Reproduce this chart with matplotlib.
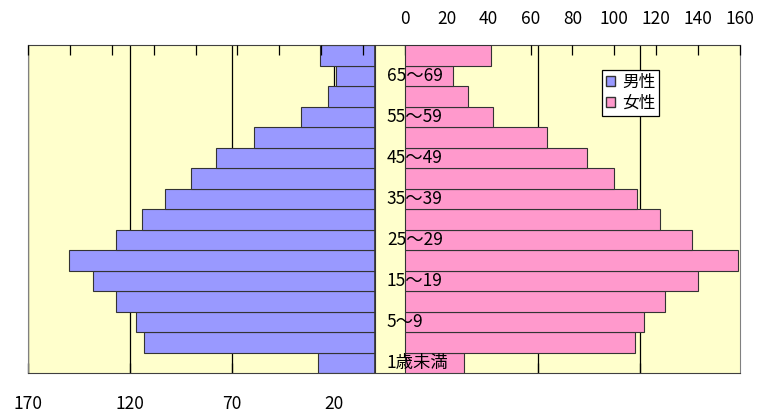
import matplotlib
matplotlib.use('Agg')
import matplotlib.pyplot as plt
from matplotlib.patches import Patch

plt.rcParams['font.family'] = ['Noto Sans CJK JP', 'DejaVu Sans']

# 年齢階級（下から上へ）
age_groups = ['1歳未満', '1～4', '5～9', '10～14', '15～19', '20～24', '25～29', '30～34',
              '35～39', '40～44', '45～49', '50～54', '55～59', '60～64', '65～69', '70～']
male = [28, 113, 117, 127, 138, 150, 127, 114, 103, 90, 78, 59, 36, 23, 19, 27]
female = [28, 110, 114, 124, 140, 159, 137, 122, 111, 100, 87, 68, 42, 30, 23, 41]

male_ticks = list(range(170, -180, -50))
female_ticks = list(range(-180, 161, 20))

male_color = '#9999FF'
female_color = '#FF99CC'
edge = '#333333'

fig = plt.figure(figsize=(7.58, 4.12), dpi=100)
ax_m = fig.add_axes([28 / 758, 39 / 412, 712 / 758, 328 / 412])
ax_m.set_facecolor('#FFFFCC')

y = list(range(len(age_groups)))

# 男性（左向き、下の目盛り）
ax_m.barh(y, male, height=1.0, color=male_color, edgecolor=edge, linewidth=0.8, zorder=2)
ax_m.set_xlim(170, -179)
ax_m.set_ylim(-0.5, len(age_groups) - 0.5)
ax_m.set_xticks(male_ticks)
ax_m.set_xticklabels([str(v) if v > 0 else '' for v in male_ticks])
ax_m.set_yticks([])
ax_m.xaxis.grid(True, color='black', linewidth=0.9)
ax_m.set_axisbelow(True)
ax_m.tick_params(axis='x', direction='in', length=7, width=0.9, pad=16, labelsize=12.5)
ax_m.axvline(0, color=edge, linewidth=1.2, zorder=3)
ax_m.spines['left'].set_color('#808080')
ax_m.spines['right'].set_color('#808080')
ax_m.spines['top'].set_color('#404040')
ax_m.spines['bottom'].set_color('#404040')

# 女性（右向き、上の目盛り）
ax_f = ax_m.twiny()
ax_f.barh(y, female, height=1.0, color=female_color, edgecolor=edge, linewidth=0.8, zorder=2)
ax_f.set_xlim(-180, 160)
ax_f.set_xticks(female_ticks)
ax_f.set_xticklabels([str(v) if v >= 0 else '' for v in female_ticks])
ax_f.tick_params(axis='x', direction='in', length=7, width=0.9, pad=12, labelsize=12.5)
for s in ax_f.spines.values():
    s.set_visible(False)

# 年齢階級ラベル（1つおき）
for i in range(0, len(age_groups), 2):
    ax_f.text(-8.6, y[i], age_groups[i], ha='left', va='center', fontsize=12.5, zorder=5)

handles = [Patch(facecolor=male_color, edgecolor=edge), Patch(facecolor=female_color, edgecolor=edge)]
leg = ax_f.legend(handles, ['男性', '女性'], loc='upper left', bbox_to_anchor=(0.806, 0.924),
                  fancybox=False, framealpha=1, edgecolor='black', borderaxespad=0,
                  handlelength=0.55, handleheight=0.55, handletextpad=0.4, borderpad=0.25,
                  labelspacing=0.2, fontsize=12)
leg.get_frame().set_linewidth(0.9)
leg.set_zorder(10)

fig.savefig('out.png', dpi=100)
